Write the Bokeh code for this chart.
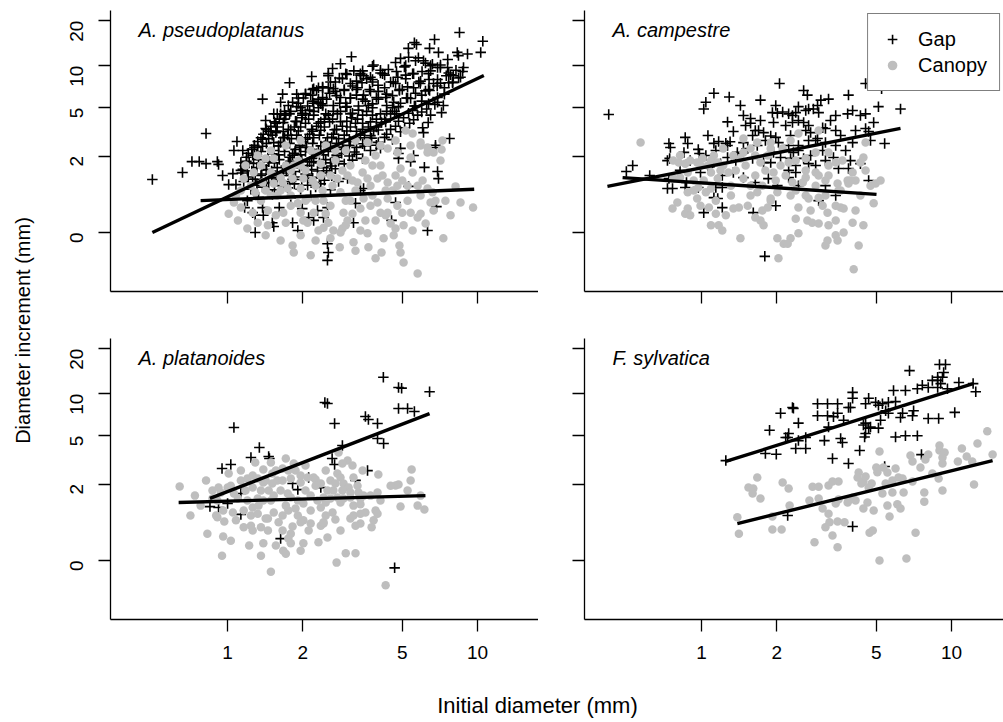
import math
from bokeh.plotting import figure
from bokeh.models import (Range1d, FixedTicker, Label, Legend, LegendItem,
                          BasicTickFormatter)
from bokeh.layouts import row, column
from bokeh.embed import file_html
from bokeh.resources import INLINE

FONT = "Liberation Sans"
GAP_COLOR = "black"
CAN_COLOR = "#BEBEBE"

X_TICKS = [1, 2, 5, 10]
Y_TICKS = [0, 2, 5, 10, 20]
SPECIES = ["A. pseudoplatanus", "A. campestre", "A. platanoides", "F. sylvatica"]
GROUPS = ["Gap", "Canopy"]
X_TITLE = "Initial diameter (mm)"
Y_TITLE = "Diameter increment (mm)"

# ---------------- data (initial diameter mm, diameter increment mm) ----------------
pseudo_gap = [
    (4.7, 10.5), (5.8, 11.3), (6.6, 10.2), (7.6, 11.0),
    (3.2, 9.2), (3.8, 9.9), (4.4, 9.4), (5.1, 9.8), (6.0, 9.1), (7.1, 9.7), (8.2, 9.3),
    (2.8, 8.2), (3.0, 8.7), (3.6, 8.1), (4.25, 8.6), (4.8, 8.3), (5.55, 8.8), (6.4, 8.0), (7.5, 8.5), (8.4, 8.2),
    (2.4, 7.1), (2.7, 7.7), (3.16, 7.2), (3.45, 7.6), (4.0, 7.3), (4.6, 7.7), (5.25, 7.1), (5.9, 7.5), (6.9, 7.2), (7.95, 7.6),
    (2.05, 6.3), (2.27, 6.7), (2.56, 6.4), (2.93, 6.8), (3.28, 6.2), (3.73, 6.6), (4.33, 6.3), (4.87, 6.8), (5.65, 6.4), (6.43, 6.7), (7.37, 6.3),
    (1.82, 5.5), (2.01, 5.9), (2.19, 5.6), (2.49, 5.8), (2.81, 5.4), (3.10, 5.9), (3.56, 5.6), (4.01, 5.8), (4.62, 5.5), (5.2, 5.9), (5.98, 5.6), (6.75, 5.3),
    (1.69, 4.7), (1.89, 5.1), (2.13, 4.8), (2.31, 5.0), (2.65, 4.7), (3.0, 5.1), (3.34, 4.8), (3.8, 5.0), (4.33, 4.7), (4.83, 5.1), (5.5, 4.8), (6.26, 4.9), (7.18, 4.6),
    (1.61, 4.1), (1.77, 4.5), (1.98, 4.2), (2.21, 4.4), (2.44, 4.1), (2.75, 4.5), (3.13, 4.2), (3.47, 4.4), (3.94, 4.1), (4.49, 4.5), (5.06, 4.2), (5.76, 4.4),
    (1.49, 3.6), (1.67, 3.85), (1.85, 3.55), (2.05, 3.8), (2.27, 3.6), (2.56, 3.9), (2.88, 3.6), (3.25, 3.8), (3.66, 3.55), (4.13, 3.85), (4.7, 3.6), (5.35, 3.8), (6.03, 3.5),
    (1.39, 3.1), (1.57, 3.3), (1.74, 3.05), (1.92, 3.3), (2.13, 3.1), (2.36, 3.35), (2.65, 3.1), (3.0, 3.3), (3.4, 3.05), (3.84, 3.3), (4.33, 3.1), (4.92, 3.25),
    (1.32, 2.7), (1.46, 2.85), (1.63, 2.65), (1.8, 2.85), (1.99, 2.7), (2.21, 2.9), (2.47, 2.65), (2.78, 2.85), (3.1, 2.7), (3.53, 2.9), (4.01, 2.65), (4.57, 2.8),
    (1.25, 2.3), (1.38, 2.45), (1.53, 2.25), (1.69, 2.45), (1.87, 2.3), (2.07, 2.4), (2.31, 2.25), (2.58, 2.45), (2.91, 2.3), (3.28, 2.4), (3.73, 2.25),
    (1.19, 1.95), (1.31, 2.05), (1.45, 1.9), (1.6, 2.05), (1.77, 1.95), (1.96, 2.05), (2.17, 1.9), (2.42, 2.05), (2.73, 1.95), (3.07, 2.0), (3.47, 1.9),
    (1.17, 1.6), (1.27, 1.7), (1.39, 1.62), (1.54, 1.72), (1.71, 1.6), (1.89, 1.7), (2.09, 1.62), (2.33, 1.72), (2.61, 1.6), (2.93, 1.68),
    (1.14, 1.35), (1.25, 1.42), (1.37, 1.32), (1.5, 1.42), (1.66, 1.35), (1.84, 1.4), (2.05, 1.32), (2.29, 1.42), (2.56, 1.35),
    (1.16, 1.08), (1.29, 1.15), (1.43, 1.05), (1.58, 1.15), (1.77, 1.08), (1.98, 1.14), (2.21, 1.05), (2.44, 1.12), (2.78, 1.08),
    (1.24, 0.86), (1.38, 0.92), (1.54, 0.85), (1.74, 0.9), (1.96, 0.86), (2.25, 0.92), (2.58, 0.85),
    (1.33, 0.66), (1.51, 0.72), (1.79, 0.65), (2.15, 0.7),
    (5.16, 10.0), (6.19, 10.4), (7.11, 10.1),
    (2.97, 8.8), (3.47, 9.2), (4.09, 8.9), (4.74, 9.1), (5.50, 8.8), (6.49, 9.2), (7.67, 8.9), (8.72, 9.1),
    (2.58, 7.7), (2.88, 8.1), (3.28, 7.8), (3.80, 8.0), (4.49, 7.7), (5.16, 8.1), (5.92, 7.8), (6.92, 8.0), (7.95, 7.7),
    (2.19, 6.8), (2.53, 7.0), (2.93, 6.7), (3.31, 7.0), (3.70, 6.8), (4.25, 7.0), (4.87, 6.7), (5.55, 7.0), (6.37, 6.8), (7.37, 7.0),
    (1.92, 5.9), (2.15, 6.2), (2.40, 5.95), (2.73, 6.15), (3.10, 5.9), (3.50, 6.2), (3.94, 5.95), (4.57, 6.15), (5.25, 5.9), (5.98, 6.2), (6.92, 5.95),
    (1.75, 5.2), (1.92, 5.4), (2.09, 5.15), (2.36, 5.35), (2.65, 5.2), (2.97, 5.4), (3.34, 5.15), (3.80, 5.35), (4.33, 5.2), (4.92, 5.4), (5.59, 5.15), (6.37, 5.35),
    (1.63, 4.5), (1.79, 4.7), (1.99, 4.55), (2.21, 4.7), (2.47, 4.5), (2.83, 4.7), (3.16, 4.55), (3.60, 4.7), (4.09, 4.5), (4.66, 4.7), (5.30, 4.55), (5.98, 4.65),
    (1.54, 3.9), (1.69, 4.1), (1.87, 3.95), (2.11, 4.1), (2.36, 3.9), (2.63, 4.1), (3.0, 3.95), (3.31, 4.1), (3.73, 3.9), (4.25, 4.1), (4.83, 3.95), (5.55, 4.05),
    (1.43, 3.4), (1.58, 3.55), (1.75, 3.4), (1.96, 3.55), (2.17, 3.4), (2.44, 3.55), (2.73, 3.4), (3.10, 3.55), (3.47, 3.4), (3.94, 3.55), (4.49, 3.4), (5.11, 3.5),
    (1.36, 2.9), (1.51, 3.05), (1.69, 2.92), (1.89, 3.05), (2.09, 2.9), (2.33, 3.05), (2.61, 2.92), (2.93, 3.05), (3.28, 2.9), (3.73, 3.02), (4.25, 2.92),
    (1.28, 2.5), (1.43, 2.6), (1.60, 2.48), (1.77, 2.6), (1.96, 2.5), (2.19, 2.6), (2.44, 2.48), (2.73, 2.6), (3.07, 2.5), (3.47, 2.58), (3.94, 2.5),
    (1.21, 2.12), (1.36, 2.2), (1.51, 2.1), (1.69, 2.2), (1.85, 2.12), (2.05, 2.2), (2.27, 2.1), (2.53, 2.2), (2.86, 2.12), (3.22, 2.18),
    (1.19, 1.78), (1.33, 1.85), (1.46, 1.77), (1.61, 1.85), (1.79, 1.78), (1.98, 1.85), (2.21, 1.77), (2.47, 1.85), (2.78, 1.78), (3.16, 1.83),
    (1.15, 1.48), (1.31, 1.54), (1.43, 1.47), (1.58, 1.54), (1.75, 1.48), (1.94, 1.54), (2.17, 1.47), (2.42, 1.54), (2.70, 1.5),
    (1.21, 1.22), (1.36, 1.27), (1.51, 1.21), (1.67, 1.27), (1.87, 1.22), (2.09, 1.27), (2.33, 1.21), (2.61, 1.26),
    (1.31, 0.97), (1.46, 1.02), (1.64, 0.96), (1.85, 1.01), (2.09, 0.97), (2.36, 1.01),
    (1.96, 5.0), (2.40, 5.2), (2.97, 5.05), (3.66, 5.2), (4.57, 5.0), (5.65, 5.15),
    (1.71, 4.4), (2.05, 4.5), (2.53, 4.4), (3.10, 4.5), (3.80, 4.4), (4.74, 4.5),
    (1.56, 3.8), (1.89, 3.92), (2.31, 3.8), (2.83, 3.92), (3.47, 3.8), (4.29, 3.9),
    (1.46, 3.28), (1.79, 3.38), (2.19, 3.28), (2.68, 3.38), (3.28, 3.28), (4.01, 3.36),
    (1.38, 2.82), (1.67, 2.9), (2.05, 2.82), (2.51, 2.9), (3.07, 2.82), (3.77, 2.88),
    (1.32, 2.41), (1.60, 2.47), (1.94, 2.41), (2.36, 2.47), (2.88, 2.41), (3.53, 2.46),
    (1.26, 2.04), (1.51, 2.1), (1.82, 2.04), (2.23, 2.1), (2.73, 2.04), (3.28, 2.08),
    (1.22, 1.71), (1.46, 1.76), (1.75, 1.71), (2.13, 1.76), (2.58, 1.72),
    (1.20, 1.42), (1.43, 1.46), (1.72, 1.42), (2.07, 1.46), (2.49, 1.43),
    (1.26, 1.15), (1.50, 1.19), (1.82, 1.15), (2.19, 1.18),
    (2.31, 5.8), (2.83, 5.95), (3.47, 5.8), (4.29, 5.95), (5.40, 5.85),
    (2.70, 6.6), (3.28, 6.8), (4.01, 6.6), (5.0, 6.8), (6.19, 6.65),
    (3.10, 7.5), (3.80, 7.7), (4.70, 7.5), (5.82, 7.7), (7.11, 7.55),
    (3.40, 8.6), (4.17, 8.8), (5.16, 8.6), (6.37, 8.8), (7.80, 8.65),
    (0.50, 1.14), (0.66, 1.37), (0.72, 1.77), (0.77, 1.77), (0.82, 1.69), (0.91, 1.77), (0.92, 1.66), (0.955, 1.27),
    (1.05, 1.33), (1.13, 1.73), (1.13, 1.44), (1.06, 2.25), (1.15, 2.25), (1.01, 0.99), (1.08, 0.99), (1.17, 0.43),
    (1.20, 0.58), (1.29, 0.0), (1.26, 0.33), (1.29, 0.28), (1.39, 0.28), (1.51, 0.15), (1.53, 0.09), (1.38, 0.43),
    (1.61, 0.43), (1.82, 0.15), (1.91, 0.03), (2.11, 0.24), (2.21, 0.19), (2.29, 0.37), (1.99, 0.41), (2.51, -0.15),
    (2.53, -0.25), (2.51, -0.33), (3.19, 0.15), (3.25, 0.52), (4.53, 0.19), (4.70, 0.54), (6.31, 0.03), (6.85, 0.45),
    (5.30, 0.94), (6.98, 1.17), (6.92, 1.40), (6.13, 1.55), (4.83, 1.9), (5.40, 1.77), (6.79, 2.39), (4.09, 2.35),
    (4.92, 2.35), (4.83, 2.11), (3.50, 0.88), (3.40, 0.83), (3.02, 1.17), (2.51, 0.43), (2.42, 0.24), (5.55, 2.02),
    (0.82, 3.15), (1.09, 2.70), (1.28, 2.4), (1.38, 5.8), (1.66, 6.3), (1.63, 5.5), (1.77, 7.6), (1.89, 6.3),
    (2.05, 6.35), (2.17, 8.4), (2.21, 6.9), (2.31, 7.0), (2.53, 8.8), (1.53, 4.5), (1.58, 4.5), (1.42, 4.0),
    (1.42, 3.46), (1.49, 3.27), (1.56, 3.2), (1.67, 3.27), (1.53, 2.64), (1.99, 4.77), (1.99, 4.4), (2.21, 5.4),
    (2.31, 5.5), (2.40, 5.2),
    (8.47, 16.7), (10.5, 14.6), (10.3, 12.3), (6.73, 15.0), (5.70, 13.9), (5.59, 14.3), (5.29, 13.1), (6.43, 13.1),
    (6.98, 12.3), (8.30, 12.3), (8.39, 11.7), (9.12, 12.0), (3.13, 11.5), (2.83, 10.3), (2.63, 9.55), (2.53, 8.5),
    (3.84, 10.1), (4.09, 9.3), (3.40, 8.8), (3.50, 8.5), (3.73, 8.3), (4.92, 11.2), (5.30, 11.4), (5.65, 10.8),
    (6.08, 10.8), (6.49, 10.0), (6.92, 9.7), (7.59, 9.7), (8.79, 9.7), (8.0, 8.5), (8.55, 8.3), (7.67, 7.6),
    (6.67, 7.5), (6.92, 5.5), (7.30, 5.2), (6.49, 4.4), (6.35, 3.86), (6.08, 3.2), (7.73, 2.86), (6.79, 2.5),
    (2.65, 6.9), (2.40, 7.0),
]
pseudo_canopy = [
    (1.01, 0.31), (1.06, 0.54), (1.20, 0.06), (1.16, 1.17), (1.27, 1.37), (1.42, 1.90), (1.53, 1.90), (1.32, 2.02),
    (1.71, 1.62), (1.84, 1.62), (1.63, 1.20), (1.82, 1.17), (2.01, 1.17), (1.53, 1.02), (2.29, 2.11), (2.36, 1.69),
    (1.96, 0.88), (1.36, 0.58), (1.58, 0.70), (1.74, 0.88), (1.45, 0.37), (1.56, 0.28), (1.67, 0.33), (1.91, 0.52),
    (1.82, -0.17), (1.84, -0.25), (2.09, 0.15), (2.31, 0.03), (2.21, 0.33), (2.42, 0.58), (2.09, 0.63), (1.26, 0.33),
    (1.32, 0.15), (1.45, 0.11), (2.01, 0.19), (7.18, 2.30), (8.17, 0.94), (8.55, 0.54), (9.6, 0.43), (7.3, -0.08),
    (5.76, -0.445), (5.06, -0.35), (4.92, -0.25), (4.87, -0.17), (4.13, -0.25), (3.66, -0.19), (3.19, -0.13), (2.81, -0.19),
    (4.62, -0.04), (5.92, 0.31), (6.49, 0.54), (6.79, 0.58), (6.67, 0.37), (6.20, 0.14), (5.76, 0.24), (5.40, 0.33),
    (5.0, 0.33), (5.06, 0.11), (4.70, 0.06), (4.49, 0.14), (4.37, 0.33), (4.09, 0.33), (3.98, 0.54), (3.50, 0.63),
    (3.80, 0.70), (3.40, 0.41), (3.16, 0.31), (2.91, 0.33), (3.02, 0.19), (2.88, 0.06), (3.40, 0.03), (3.63, -0.01),
    (2.65, 0.03), (2.83, 0.0), (2.53, 0.15), (2.42, 0.07), (4.21, -0.08), (3.91, 0.19), (4.78, 0.47), (4.37, 0.63),
    (5.25, 0.58), (5.92, 0.70), (6.31, 0.88), (5.76, 0.96), (5.25, 0.96), (4.78, 0.96), (4.37, 1.05), (3.98, 1.17),
    (3.63, 1.17), (3.31, 1.05), (3.02, 1.27), (2.75, 1.17), (4.92, 1.51), (5.92, 2.49), (5.40, 1.94), (6.31, 2.16),
    (7.11, 1.81), (7.24, 2.75), (5.50, 3.15), (6.31, 2.39), (5.92, 2.64), (5.40, 2.49), (4.09, 2.49), (4.37, 2.34),
    (3.63, 2.64), (4.78, 2.16), (6.67, 2.16), (1.36, 1.62), (1.49, 2.25), (1.71, 2.49), (1.96, 2.75), (2.15, 2.25),
    (2.47, 2.49), (2.70, 1.81), (2.97, 2.25), (3.10, 1.62), (2.58, 1.27), (2.25, 0.96), (1.79, 0.70), (2.05, 0.58),
    (2.83, 0.78), (3.25, 0.83), (3.73, 0.96), (4.29, 0.83), (4.70, 1.27), (4.09, 1.62), (3.56, 1.81), (2.97, 0.58),
    (2.58, 0.47), (2.25, 0.58), (1.13, 0.83), (1.24, 0.96), (1.42, 0.83), (1.63, 0.83), (1.13, 0.43), (1.10, 0.19),
    (1.29, 0.78), (1.38, 1.05), (1.49, 1.37), (1.66, 1.05), (1.79, 1.44), (1.92, 1.81), (2.05, 1.44), (2.19, 1.11),
    (2.40, 0.83), (2.63, 0.96), (2.88, 1.44), (3.16, 1.11), (3.47, 1.37), (3.80, 1.62), (4.17, 1.27), (4.57, 0.83),
    (5.0, 1.11), (5.5, 1.37), (6.03, 1.11), (6.61, 0.78), (7.44, 0.58), (7.8, 0.28), (5.5, 0.03), (4.29, 0.28),
    (3.56, 0.19), (2.97, 0.11), (2.47, 0.31), (1.96, 0.33), (1.71, 0.15), (1.42, -0.04), (1.63, -0.11), (1.96, -0.04),
    (2.25, -0.11), (2.58, -0.08), (2.15, -0.28), (3.25, -0.23), (3.91, -0.31), (1.79, 0.47), (1.49, 0.70), (3.10, 0.58),
    (3.73, 0.47), (2.36, 1.27), (1.96, 1.62), (2.70, 2.25), (3.25, 2.75), (3.91, 2.02), (4.70, 2.75), (5.16, 3.33),
    (1.18, 1.62), (1.08, 0.70),
]
campestre_gap = [
    (0.425, 4.45), (0.50, 1.40), (0.53, 1.62), (0.62, 1.27), (0.74, 2.59), (0.745, 1.90), (0.73, 0.88), (0.765, 0.88),
    (0.86, 2.92), (0.88, 2.59), (0.85, 2.16), (0.87, 1.05), (0.86, 0.91), (0.97, 2.30), (0.98, 2.11), (1.04, 5.5),
    (1.02, 4.9), (1.12, 6.4), (1.29, 6.0), (1.06, 3.03), (1.12, 2.6), (1.17, 2.7), (1.25, 2.6), (1.30, 2.68),
    (1.27, 3.9), (1.34, 3.27), (1.47, 4.37), (1.57, 4.15), (1.57, 3.8), (1.64, 3.33), (1.12, 1.73), (1.19, 1.69),
    (0.99, 1.37), (1.06, 1.55), (0.75, 2.39), (0.73, 1.81), (0.74, 1.17), (0.97, 0.91), (1.14, 0.91), (1.12, 0.65),
    (1.16, 0.63), (1.21, 0.43), (1.02, 0.33), (1.61, 0.33), (1.79, -0.29), (1.92, 4.6), (2.01, 4.55), (2.11, 4.65),
    (2.05, 7.5), (1.69, 3.33), (1.77, 3.2), (1.94, 3.86), (1.89, 3.0), (1.98, 2.92), (1.47, 2.64), (1.53, 2.34),
    (1.39, 2.16), (1.45, 2.11), (1.27, 1.94), (1.67, 2.49), (1.60, 1.90), (1.77, 1.73), (1.89, 1.73), (1.94, 2.16),
    (2.03, 2.64), (2.07, 1.94), (1.34, 1.37), (1.21, 1.27), (1.47, 1.20), (1.85, 1.17), (1.64, 1.05), (2.01, 0.96),
    (1.98, 0.47), (1.21, 0.91),
    (4.53, 7.5), (5.25, 6.9), (2.56, 6.7), (2.65, 6.2), (3.22, 5.8), (3.87, 6.2), (6.25, 4.9), (5.10, 5.1),
    (4.53, 4.5), (4.88, 3.86), (4.53, 3.46), (4.66, 3.27), (5.40, 2.59), (3.84, 4.5), (4.02, 4.77), (3.44, 4.37),
    (2.91, 5.2), (2.80, 4.9), (2.94, 4.6), (2.61, 4.77), (2.68, 4.9), (2.44, 5.1), (2.38, 4.6), (2.23, 4.5),
    (2.31, 4.37), (2.31, 3.86), (2.44, 4.0), (2.56, 3.86), (2.61, 3.33), (2.73, 3.2), (3.05, 3.5), (3.13, 3.46),
    (3.44, 3.33), (4.02, 2.64), (3.13, 2.64), (3.44, 2.49), (2.91, 2.86), (2.68, 2.75), (2.44, 2.49), (2.23, 2.49),
    (2.33, 2.16), (2.27, 1.90), (2.56, 1.90), (2.68, 1.69), (2.86, 1.62), (3.37, 1.94), (3.53, 1.51), (3.87, 1.51),
    (4.32, 1.69), (4.66, 1.11), (2.23, 1.44), (2.38, 1.37), (2.44, 0.96), (3.13, 0.96), (3.44, 0.70), (2.94, 0.58),
    (2.23, 1.20),
    (1.50, 3.65), (1.60, 3.03), (1.72, 4.0), (1.80, 2.75), (2.17, 3.65), (2.27, 3.03), (2.44, 2.25), (2.68, 3.65),
    (2.86, 2.75), (3.05, 2.25), (3.28, 4.0), (3.60, 3.03), (3.77, 2.25), (4.13, 3.33), (4.32, 4.37), (4.74, 2.75),
    (1.37, 1.81), (1.27, 2.49), (1.14, 2.25), (1.04, 2.02), (0.90, 1.81), (0.82, 1.44), (2.38, 1.62), (2.73, 2.02),
    (3.13, 1.81), (3.94, 1.81), (1.72, 5.7), (1.98, 5.2), (1.43, 5.2), (3.0, 5.7),
]
campestre_canopy = [
    (0.57, 2.64), (0.77, 1.81), (0.81, 1.73), (0.86, 1.69), (0.77, 1.17), (0.82, 1.20), (0.88, 1.37), (0.80, 0.54),
    (0.765, 0.41), (0.86, 0.31), (0.88, 0.41), (0.93, 0.83), (0.97, 0.91), (0.96, 0.63), (1.04, 0.78), (1.09, 0.88),
    (1.07, 0.43), (1.14, 0.31), (1.09, 0.11), (1.17, 0.11), (1.21, 0.03), (1.34, 0.41), (1.41, 0.43), (1.53, 0.47),
    (1.43, -0.08), (1.64, 0.24), (1.75, 0.37), (1.84, 0.43), (1.77, 0.11), (2.01, -0.08), (2.03, -0.31), (1.89, 0.63),
    (2.13, -0.15), (0.82, 2.02), (0.90, 1.81), (0.96, 1.73), (1.01, 1.90), (1.06, 1.62), (1.09, 1.37), (1.16, 1.73),
    (1.22, 1.62), (1.28, 1.37), (1.34, 2.02), (1.43, 1.90), (1.47, 2.16), (1.57, 2.34), (1.64, 2.02), (1.72, 1.73),
    (1.84, 2.02), (1.89, 2.34), (1.94, 1.37), (2.07, 1.62), (1.47, 1.17), (1.57, 0.96), (1.31, 0.96), (1.16, 1.17),
    (1.02, 1.11), (1.75, 0.96), (1.67, 0.78), (2.01, 0.78), (2.11, 2.34), (1.89, 2.64), (1.67, 2.64), (1.47, 2.86),
    (1.22, 2.34), (1.12, 2.02), (0.93, 1.11), (0.88, 0.78),
    (2.44, 3.15), (2.27, 2.75), (2.94, 3.33), (3.22, 2.16), (3.66, 1.81), (4.32, 1.73), (4.44, 1.94), (4.53, 1.44),
    (4.97, 1.02), (3.84, 1.11), (3.87, 1.02), (3.50, 1.02), (3.13, 1.11), (3.22, 1.27), (2.86, 1.37), (2.94, 1.27),
    (2.61, 1.20), (2.54, 1.05), (2.31, 1.05), (2.38, 0.83), (2.61, 0.70), (2.68, 0.63), (2.94, 0.65), (3.05, 0.47),
    (3.19, 0.33), (3.44, 0.47), (3.60, 0.43), (3.70, 0.41), (2.44, 0.43), (2.38, 0.22), (2.65, 0.19), (2.77, 0.15),
    (2.94, 0.14), (2.44, -0.01), (2.27, -0.08), (2.21, -0.15), (3.22, 0.11), (3.44, -0.04), (3.50, -0.11), (3.70, 0.0),
    (4.02, 0.15), (4.44, 0.11), (4.88, 0.52), (4.25, -0.17), (3.13, -0.17), (3.19, -0.11), (4.06, -0.41), (3.53, 0.83),
    (4.13, 1.11), (3.22, 1.62), (3.44, 1.73), (4.02, 1.37), (2.86, 2.16), (2.61, 1.90), (2.23, 1.73), (4.53, 2.64),
    (0.99, 1.62), (1.09, 1.81), (1.19, 1.44), (1.37, 1.44), (1.50, 1.62), (1.64, 1.27), (1.80, 1.44), (1.98, 1.11),
    (2.17, 1.27), (2.38, 1.81), (2.61, 1.44), (2.86, 0.96), (3.13, 0.70), (3.60, 0.83), (3.94, 1.11), (4.32, 0.70),
    (4.74, 0.96), (2.27, 0.70), (1.89, 0.58), (1.57, 0.70), (1.31, 0.70), (1.14, 0.58), (0.99, 0.47), (0.90, 0.28),
    (1.25, 0.28), (1.72, 0.19), (2.73, 0.37), (3.44, 0.19), (4.13, 0.37), (5.20, 1.11),
]
platanoides_gap = [
    (1.06, 5.76), (0.95, 2.75), (1.03, 2.97), (1.24, 3.39), (1.34, 4.07), (1.46, 3.46), (1.47, 3.33), (0.85, 1.17),
    (1.13, 0.94), (1.63, 0.37), (1.91, 1.77), (1.82, 2.02), (2.36, 1.85), (2.11, 2.30), (1.13, 1.62), (0.92, 1.14),
    (1.0, 1.27), (2.45, 8.68), (4.2, 12.9), (4.83, 11.0), (4.97, 10.9), (6.43, 10.3), (2.51, 8.54), (4.83, 7.88),
    (5.25, 7.88), (5.59, 7.5), (2.68, 6.16), (3.56, 6.92), (3.66, 6.58), (3.98, 6.16), (3.98, 4.77), (4.21, 4.37),
    (2.88, 4.22), (2.62, 3.33), (2.68, 2.97), (3.63, 2.64), (4.66, -0.10), (3.25, 2.16),
]
platanoides_canopy = [
    (0.643, 1.90), (0.83, 0.47), (0.96, 0.41), (0.91, 0.86), (0.97, 0.75), (0.90, 0.91), (0.92, 1.85), (1.0, 1.85),
    (1.01, 2.49), (1.13, 2.16), (1.20, 2.25), (1.26, 2.39), (1.32, 2.25), (1.39, 2.70), (1.51, 2.49), (1.58, 2.16),
    (1.66, 2.75), (1.75, 2.64), (1.87, 2.64), (1.96, 2.39), (2.09, 2.30), (2.21, 2.30), (2.36, 2.02), (1.06, 1.62),
    (1.10, 1.44), (1.20, 1.37), (1.26, 1.14), (1.32, 1.44), (1.39, 1.37), (1.46, 1.73), (1.53, 1.54), (1.63, 1.73),
    (1.74, 1.62), (1.91, 1.37), (2.01, 1.27), (2.15, 1.54), (2.29, 1.37), (1.16, 1.05), (1.24, 0.91), (1.32, 0.96),
    (1.45, 0.83), (1.53, 0.99), (1.66, 0.91), (1.75, 1.05), (1.91, 0.91), (2.01, 0.78), (2.15, 0.70), (2.36, 0.65),
    (1.36, 0.61), (1.45, 0.54), (1.26, 0.54), (1.16, 0.61), (1.66, 0.54), (1.79, 0.47), (1.96, 0.73), (1.39, 0.28),
    (1.75, 0.37), (1.79, 0.28), (2.01, 0.28), (1.67, 0.15), (1.71, 0.10), (1.49, -0.15), (1.05, 0.99), (0.96, 1.05),
    (0.87, 1.44), (0.91, 1.37), (0.94, 1.66), (1.96, 2.07), (2.25, 2.2), (1.84, 3.03), (1.39, 2.07), (1.51, 2.02),
    (1.66, 2.16), (1.26, 1.85), (1.36, 1.73), (1.79, 1.47), (2.36, 1.14), (2.42, 0.70), (1.49, 3.09), (1.71, 3.33),
    (2.05, 2.92), (2.78, 3.72), (3.02, 3.20), (3.16, 2.92), (2.88, 3.03), (3.47, 2.64), (4.01, 2.44), (5.45, 2.70),
    (4.83, 1.98), (4.70, 1.94), (2.75, 2.49), (2.83, 2.30), (2.58, 2.16), (2.70, 2.02), (2.91, 2.02), (3.05, 1.85),
    (3.19, 2.30), (3.31, 1.93), (2.51, 1.73), (2.65, 1.73), (2.88, 1.73), (3.10, 1.66), (3.34, 1.66), (3.50, 1.54),
    (3.73, 1.54), (3.98, 1.66), (2.42, 1.47), (2.58, 1.44), (2.75, 1.47), (2.91, 1.44), (3.10, 1.47), (3.40, 1.44),
    (2.47, 1.30), (2.83, 1.30), (3.19, 1.20), (3.40, 1.24), (4.92, 1.17), (5.25, 1.73), (5.76, 1.20), (6.13, 1.08),
    (2.63, 0.99), (2.42, 0.73), (2.70, 0.80), (3.10, 0.83), (3.19, 0.91), (3.40, 0.96), (3.56, 0.99), (3.91, 1.05),
    (3.98, 0.96), (3.84, 0.78), (3.77, 0.61), (3.40, 0.70), (2.51, 0.39), (2.97, 0.11), (3.25, 0.11), (2.73, -0.03),
    (4.29, -0.30),
    (0.82, 2.16), (0.87, 1.73), (1.03, 1.93), (1.13, 2.64), (1.29, 3.09), (1.42, 2.16), (1.56, 2.64), (1.79, 2.25),
    (2.05, 1.73), (2.25, 1.93), (2.47, 2.64), (1.18, 1.73), (1.33, 1.20), (1.49, 1.37), (1.71, 1.20), (1.87, 1.11),
    (2.15, 1.05), (2.47, 0.91), (1.08, 0.78), (1.24, 0.65), (1.42, 0.83), (1.60, 0.73), (1.82, 0.63), (2.11, 0.54),
    (1.03, 0.33), (1.22, 0.24), (1.56, 0.24), (1.96, 0.15), (2.31, 0.30), (2.83, 0.54), (3.25, 0.65), (4.09, 1.37),
    (4.49, 1.93), (5.40, 2.16), (5.92, 1.54), (0.78, 1.20), (0.71, 0.91), (0.74, 1.54), (0.95, 0.07), (1.36, 0.07),
]
sylvatica_gap = [
    (1.25, 3.2), (2.07, 7.3), (1.87, 5.5), (1.80, 3.65), (1.99, 3.6), (2.17, 4.85),
    (8.95, 15.7), (9.46, 15.7), (6.79, 14.3), (9.3, 13.9), (9.2, 12.9), (8.38, 12.3), (8.80, 12.3), (9.05, 11.7),
    (10.7, 11.9), (12.5, 10.3), (12.2, 11.7), (9.63, 10.8), (8.07, 11.0), (7.64, 11.4), (7.3, 10.8), (8.8, 11.0),
    (8.8, 12.9), (10.3, 7.4), (8.88, 6.7), (8.07, 6.7), (6.54, 10.5), (5.86, 10.5), (7.3, 5.0), (6.54, 5.0),
    (5.97, 4.9), (7.05, 7.6), (6.98, 7.0), (6.25, 6.8), (6.37, 7.3), (5.97, 8.8), (5.59, 8.7), (5.29, 8.5),
    (5.10, 8.3), (5.45, 7.6), (5.59, 7.3), (5.2, 6.5), (5.10, 5.7), (4.66, 5.7), (4.74, 5.8), (4.53, 5.2),
    (4.49, 4.9), (4.44, 6.0), (4.53, 6.2), (4.97, 8.7), (4.66, 9.3), (4.53, 8.5), (4.02, 10.2), (4.02, 9.3),
    (3.94, 8.0), (3.70, 6.5), (3.50, 7.3), (3.37, 6.9), (3.19, 7.0), (2.91, 7.0), (3.19, 8.5), (3.50, 8.5),
    (2.91, 8.5), (3.87, 8.0), (3.22, 5.8), (3.60, 4.77), (3.66, 4.45), (3.10, 4.6), (2.44, 6.2), (2.33, 7.9),
    (2.31, 8.0), (2.61, 4.85), (2.44, 4.6), (2.38, 4.0), (2.61, 4.0), (2.21, 4.85), (2.23, 5.2), (3.34, 3.33),
    (3.87, 3.03), (4.29, 3.86), (5.40, 2.86), (7.58, 3.58), (4.02, 0.63), (2.21, 0.91),
]
sylvatica_canopy = [
    (1.67, 2.30), (1.54, 1.85), (1.61, 1.81), (1.60, 1.62), (1.72, 1.44), (2.11, 2.07), (1.39, 0.86), (1.41, 0.47),
    (1.92, 0.56), (2.09, 0.56), (1.92, 0.88),
    (13.9, 5.4), (12.7, 4.37), (14.6, 3.58), (12.3, 1.98), (11.0, 4.0), (11.5, 3.46), (8.95, 4.22), (8.95, 3.86),
    (9.38, 3.72), (9.2, 3.39), (10.6, 3.15), (12.1, 3.15), (9.2, 3.03), (8.07, 3.58), (7.86, 3.27), (6.85, 3.52),
    (6.98, 3.15), (7.51, 2.81), (8.38, 2.49), (8.88, 2.25), (9.2, 1.73), (7.78, 1.66), (7.78, 1.33), (7.18, 0.49),
    (6.6, 0.03), (5.15, 0.0), (5.15, 3.79), (5.97, 2.75), (5.33, 2.81), (5.0, 2.81), (5.05, 2.55), (5.54, 2.54),
    (6.13, 2.30), (6.37, 2.25), (5.8, 2.16), (5.45, 2.02), (5.29, 1.62), (5.8, 1.66), (6.43, 1.66), (6.98, 2.11),
    (4.53, 2.34), (4.79, 2.02), (4.44, 2.11), (4.36, 2.02), (4.66, 1.85), (4.25, 2.54), (4.21, 2.30), (4.02, 1.47),
    (3.87, 1.37), (4.61, 1.30), (4.44, 1.11), (4.88, 1.05), (5.54, 1.20), (6.07, 1.24), (6.25, 1.11), (5.65, 0.88),
    (3.53, 1.40), (3.44, 1.27), (3.84, 1.30), (4.13, 1.37), (3.22, 1.94), (3.53, 2.11), (3.34, 2.11), (2.78, 1.89),
    (2.94, 1.89), (2.70, 1.37), (2.94, 1.44), (3.05, 1.11), (3.22, 0.96), (3.50, 0.75), (3.25, 0.73), (3.73, 0.73),
    (3.13, 0.61), (3.34, 0.43), (2.83, 0.30), (3.50, 0.21), (4.70, 0.49), (4.84, 0.54), (2.25, 1.20), (2.23, 1.81),
]

# fitted lines (end points, mm)
pseudo_gap_fit_x, pseudo_gap_fit_y = [0.50, 10.6], [0.0, 8.54]
pseudo_can_fit_x, pseudo_can_fit_y = [0.78, 9.7], [0.58, 0.86]
campestre_gap_fit_x, campestre_gap_fit_y = [0.42, 6.25], [0.94, 3.46]
campestre_can_fit_x, campestre_can_fit_y = [0.483, 5.01], [1.20, 0.73]
platanoides_gap_fit_x, platanoides_gap_fit_y = [0.85, 6.43], [1.44, 7.26]
platanoides_can_fit_x, platanoides_can_fit_y = [0.637, 6.19], [1.30, 1.54]
sylvatica_gap_fit_x, sylvatica_gap_fit_y = [1.25, 12.2], [3.15, 11.7]
sylvatica_can_fit_x, sylvatica_can_fit_y = [1.39, 14.6], [0.70, 3.20]

# axis limits
X_LIM_LEFT = (0.340, 17.54)
X_LIM_RIGHT = (0.340, 16.14)
Y_LIM = (-0.5716, 23.28)   # increment in mm; axis shows log(increment + 1)


def plus1(v):
    return [a + 1.0 for a in v]


def style_axis(ax, show_labels, ticks, shift):
    ax.axis_line_color = "black"
    ax.axis_line_width = 1.3
    ax.major_tick_line_color = "black"
    ax.major_tick_line_width = 1.3
    ax.major_tick_out = 12
    ax.major_tick_in = 0
    ax.minor_tick_line_color = None
    ax.major_label_text_font = FONT
    ax.major_label_text_font_size = "19px"
    ax.major_label_text_color = "black"
    ax.formatter = BasicTickFormatter()
    ax.ticker = FixedTicker(ticks=[t + shift for t in ticks])
    ax.major_label_overrides = {t + shift: (str(t) if show_labels else "") for t in ticks}


def panel(title, gap, can, gfx, gfy, cfx, cfy, xlim, width, height,
          bl, br, bt, bb, ylabels, xlabels, legend=False):
    p = figure(width=width, height=height, x_axis_type="log", y_axis_type="log",
               x_range=Range1d(*xlim), y_range=Range1d(Y_LIM[0] + 1, Y_LIM[1] + 1),
               output_backend="svg", toolbar_location=None,
               min_border_left=bl, min_border_right=br,
               min_border_top=bt, min_border_bottom=bb)
    p.grid.visible = False
    p.outline_line_color = None
    style_axis(p.xaxis[0], xlabels, X_TICKS, 0)
    style_axis(p.yaxis[0], ylabels, Y_TICKS, 1)
    p.xaxis[0].major_label_standoff = 14
    p.yaxis[0].major_label_standoff = 22
    p.yaxis[0].major_label_orientation = math.pi / 2

    gx, gy = zip(*gap)
    cx, cy = zip(*can)
    rg = p.scatter(x=list(gx), y=plus1(gy), marker="cross", size=10.5,
                   line_color=GAP_COLOR, line_width=1.6)
    rc = p.scatter(x=list(cx), y=plus1(cy), marker="circle", size=8.5,
                   fill_color=CAN_COLOR, line_color=None)
    p.line(x=gfx, y=plus1(gfy), line_color="black", line_width=3.4)
    p.line(x=cfx, y=plus1(cfy), line_color="black", line_width=3.4)

    p.add_layout(Label(x=0.44, y=18.4, text=title, text_font=FONT,
                       text_font_style="italic", text_font_size="20px",
                       text_color="black", text_baseline="alphabetic",
                       text_align="left"))
    if legend:
        lg = Legend(items=[LegendItem(label=GROUPS[0], renderers=[rg]),
                           LegendItem(label=GROUPS[1], renderers=[rc])],
                    location="top_right", margin=3, padding=12, spacing=0,
                    glyph_width=24, glyph_height=26, label_height=26,
                    label_standoff=14, border_line_color="black",
                    border_line_width=1, background_fill_color="white",
                    background_fill_alpha=1.0, label_text_font=FONT,
                    label_text_font_size="20px", label_text_color="black")
        p.add_layout(lg)
    return p


YW = 40
p1 = panel(SPECIES[0], pseudo_gap, pseudo_canopy, pseudo_gap_fit_x, pseudo_gap_fit_y,
           pseudo_can_fit_x, pseudo_can_fit_y, X_LIM_LEFT, 498, 338, 70, 0, 10, 47, True, False)
p2 = panel(SPECIES[1], campestre_gap, campestre_canopy, campestre_gap_fit_x, campestre_gap_fit_y,
           campestre_can_fit_x, campestre_can_fit_y, X_LIM_RIGHT, 465, 338, 46, 0, 10, 47, False, False,
           legend=True)
p3 = panel(SPECIES[2], platanoides_gap, platanoides_canopy, platanoides_gap_fit_x, platanoides_gap_fit_y,
           platanoides_can_fit_x, platanoides_can_fit_y, X_LIM_LEFT, 498, 344, 70, 0, 0, 63, True, True)
p4 = panel(SPECIES[3], sylvatica_gap, sylvatica_canopy, sylvatica_gap_fit_x, sylvatica_gap_fit_y,
           sylvatica_can_fit_x, sylvatica_can_fit_y, X_LIM_RIGHT, 465, 344, 46, 0, 0, 63, False, True)

# outer axis titles
yfig = figure(width=YW, height=722, x_range=Range1d(0, YW), y_range=Range1d(0, 722),
              x_axis_location=None, y_axis_location=None, output_backend="svg",
              toolbar_location=None, min_border=0)
yfig.grid.visible = False
yfig.outline_line_color = None
yfig.add_layout(Label(x=22, y=722 - 330, text=Y_TITLE, angle=math.pi / 2,
                      text_font=FONT, text_font_size="20px", text_color="black",
                      text_align="center", text_baseline="middle"))

xfig = figure(width=1003 - YW, height=40, x_range=Range1d(YW, 1003), y_range=Range1d(0, 40),
              x_axis_location=None, y_axis_location=None, output_backend="svg",
              toolbar_location=None, min_border=0)
xfig.grid.visible = False
xfig.outline_line_color = None
xfig.add_layout(Label(x=537, y=17, text=X_TITLE, text_font=FONT, text_font_size="22px",
                      text_color="black", text_align="center", text_baseline="middle"))

layout = row(yfig, column(row(p1, p2), row(p3, p4), xfig))

with open("out.html", "w") as f:
    f.write(file_html(layout, INLINE))
